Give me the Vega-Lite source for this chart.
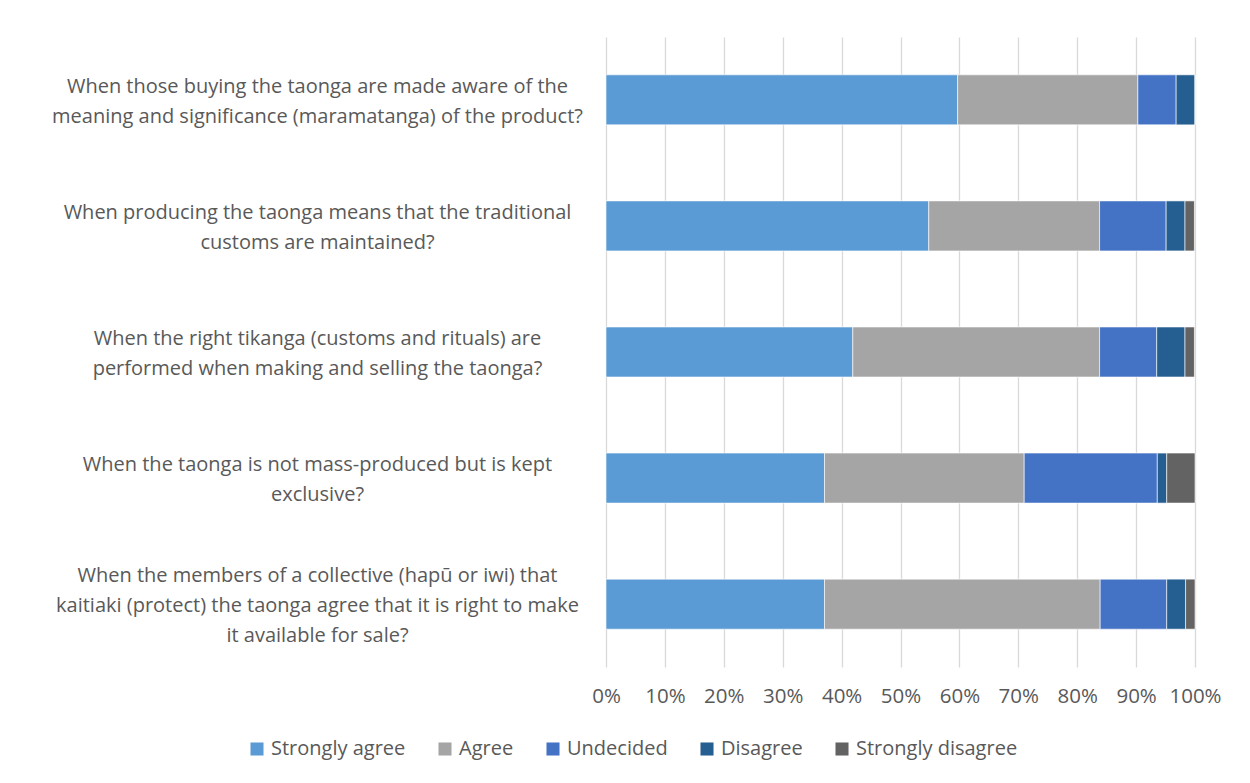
{
  "$schema": "https://vega.github.io/schema/vega-lite/v6.json",
  "autosize": {"type": "none"},
  "width": 589,
  "height": 630,
  "padding": {"left": 606, "top": 37, "right": 55, "bottom": 116},
  "background": "white",
  "config": {
    "font": "Open Sans",
    "view": {"stroke": null},
    "axis": {"labelColor": "#595959", "labelFont": "Open Sans", "labelFontSize": 20}
  },
  "data": {
    "values": [
      {"q": "When those buying the taonga are made aware of the|meaning and significance (maramatanga) of the product?", "r": "Strongly agree", "k": 1, "p": 59.7},
      {"q": "When those buying the taonga are made aware of the|meaning and significance (maramatanga) of the product?", "r": "Agree", "k": 2, "p": 30.6},
      {"q": "When those buying the taonga are made aware of the|meaning and significance (maramatanga) of the product?", "r": "Undecided", "k": 3, "p": 6.5},
      {"q": "When those buying the taonga are made aware of the|meaning and significance (maramatanga) of the product?", "r": "Disagree", "k": 4, "p": 3.2},
      {"q": "When those buying the taonga are made aware of the|meaning and significance (maramatanga) of the product?", "r": "Strongly disagree", "k": 5, "p": 0},
      {"q": "When producing the taonga means that the traditional|customs are maintained?", "r": "Strongly agree", "k": 1, "p": 54.8},
      {"q": "When producing the taonga means that the traditional|customs are maintained?", "r": "Agree", "k": 2, "p": 29.0},
      {"q": "When producing the taonga means that the traditional|customs are maintained?", "r": "Undecided", "k": 3, "p": 11.3},
      {"q": "When producing the taonga means that the traditional|customs are maintained?", "r": "Disagree", "k": 4, "p": 3.2},
      {"q": "When producing the taonga means that the traditional|customs are maintained?", "r": "Strongly disagree", "k": 5, "p": 1.6},
      {"q": "When the right tikanga (customs and rituals) are|performed when making and selling the taonga?", "r": "Strongly agree", "k": 1, "p": 41.9},
      {"q": "When the right tikanga (customs and rituals) are|performed when making and selling the taonga?", "r": "Agree", "k": 2, "p": 41.9},
      {"q": "When the right tikanga (customs and rituals) are|performed when making and selling the taonga?", "r": "Undecided", "k": 3, "p": 9.7},
      {"q": "When the right tikanga (customs and rituals) are|performed when making and selling the taonga?", "r": "Disagree", "k": 4, "p": 4.8},
      {"q": "When the right tikanga (customs and rituals) are|performed when making and selling the taonga?", "r": "Strongly disagree", "k": 5, "p": 1.6},
      {"q": "When the taonga is not mass-produced but is kept|exclusive?", "r": "Strongly agree", "k": 1, "p": 37.1},
      {"q": "When the taonga is not mass-produced but is kept|exclusive?", "r": "Agree", "k": 2, "p": 33.9},
      {"q": "When the taonga is not mass-produced but is kept|exclusive?", "r": "Undecided", "k": 3, "p": 22.6},
      {"q": "When the taonga is not mass-produced but is kept|exclusive?", "r": "Disagree", "k": 4, "p": 1.6},
      {"q": "When the taonga is not mass-produced but is kept|exclusive?", "r": "Strongly disagree", "k": 5, "p": 4.8},
      {"q": "When the members of a collective (hapū or iwi) that|kaitiaki (protect) the taonga agree that it is right to make|it available for sale?", "r": "Strongly agree", "k": 1, "p": 37.1},
      {"q": "When the members of a collective (hapū or iwi) that|kaitiaki (protect) the taonga agree that it is right to make|it available for sale?", "r": "Agree", "k": 2, "p": 46.8},
      {"q": "When the members of a collective (hapū or iwi) that|kaitiaki (protect) the taonga agree that it is right to make|it available for sale?", "r": "Undecided", "k": 3, "p": 11.3},
      {"q": "When the members of a collective (hapū or iwi) that|kaitiaki (protect) the taonga agree that it is right to make|it available for sale?", "r": "Disagree", "k": 4, "p": 3.2},
      {"q": "When the members of a collective (hapū or iwi) that|kaitiaki (protect) the taonga agree that it is right to make|it available for sale?", "r": "Strongly disagree", "k": 5, "p": 1.6}
    ]
  },
  "mark": {"type": "bar", "stroke": "#ffffff", "strokeWidth": 0.6},
  "encoding": {
    "y": {
      "field": "q",
      "type": "nominal",
      "sort": null,
      "title": null,
      "scale": {"paddingInner": 0.603, "paddingOuter": 0.3},
      "axis": {
        "domain": false,
        "ticks": false,
        "labelAlign": "center",
        "labelBaseline": "middle",
        "labelPadding": 289,
        "labelLineHeight": 30,
        "labelLimit": 0,
        "labelOffset": {"condition": {"test": "length(split(datum.value, '|')) == 3", "value": -28}, "value": -13},
        "labelExpr": "split(datum.value, '|')"
      }
    },
    "x": {
      "field": "p",
      "type": "quantitative",
      "stack": "zero",
      "title": null,
      "scale": {"domain": [0, 100], "nice": false},
      "axis": {
        "values": [0, 10, 20, 30, 40, 50, 60, 70, 80, 90, 100],
        "labelExpr": "datum.value + '%'",
        "labelOverlap": false,
        "labelFlush": false,
        "labelFontSize": 20.5,
        "domain": false,
        "ticks": false,
        "grid": true,
        "gridColor": "#d9d9d9",
        "gridWidth": 1.3,
        "labelPadding": 19
      }
    },
    "color": {
      "field": "r",
      "type": "nominal",
      "scale": {
        "domain": ["Strongly agree", "Agree", "Undecided", "Disagree", "Strongly disagree"],
        "range": ["#5B9BD5", "#A5A5A5", "#4472C4", "#255E91", "#636363"]
      },
      "legend": {
        "title": null,
        "orient": "none",
        "direction": "horizontal",
        "legendX": -359,
        "legendY": 702,
        "symbolType": "square",
        "symbolSize": 170,
        "symbolStrokeWidth": 0,
        "labelFontSize": 20,
        "labelLimit": 0,
        "labelColor": "#595959",
        "labelFont": "Open Sans",
        "labelOffset": 4,
        "columnPadding": 29
      }
    },
    "order": {"field": "k", "type": "quantitative"}
  }
}
